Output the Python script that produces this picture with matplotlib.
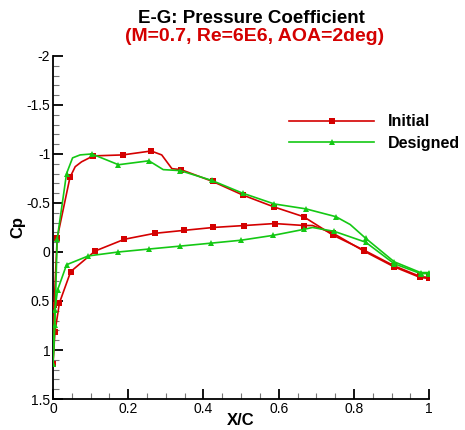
import numpy as np
import matplotlib
matplotlib.use("Agg")
import matplotlib.pyplot as plt
from matplotlib.ticker import MultipleLocator, FuncFormatter
from matplotlib.lines import Line2D

plt.rcParams["font.family"] = ["Liberation Sans", "DejaVu Sans"]

# marker stations (x/c, Cp)
init_up_x = [0.0, 0.003, 0.011, 0.045, 0.107, 0.185, 0.261, 0.340, 0.424, 0.505, 0.587, 0.666, 0.745, 0.826, 0.906, 0.976, 0.999]
init_up_cp = [1.14, 0.54, -0.14, -0.76, -0.98, -0.99, -1.03, -0.84, -0.72, -0.58, -0.46, -0.36, -0.17, -0.02, 0.14, 0.25, 0.26]
init_lo_x = [0.0, 0.005, 0.017, 0.047, 0.112, 0.190, 0.270, 0.347, 0.426, 0.509, 0.589, 0.668, 0.745, 0.826, 0.906, 0.976, 0.999]
init_lo_cp = [1.14, 0.82, 0.52, 0.20, -0.01, -0.13, -0.19, -0.22, -0.25, -0.27, -0.29, -0.27, -0.19, -0.01, 0.15, 0.26, 0.27]

des_up_x = [0.0, 0.005, 0.011, 0.036, 0.103, 0.174, 0.255, 0.338, 0.422, 0.504, 0.588, 0.672, 0.752, 0.831, 0.907, 0.977, 0.999]
des_up_cp = [1.14, 0.74, -0.13, -0.80, -1.00, -0.89, -0.93, -0.83, -0.73, -0.60, -0.49, -0.44, -0.36, -0.14, 0.10, 0.21, 0.21]
des_lo_x = [0.0, 0.005, 0.012, 0.036, 0.094, 0.174, 0.255, 0.338, 0.420, 0.500, 0.586, 0.666, 0.748, 0.831, 0.907, 0.977, 0.999]
des_lo_cp = [1.14, 0.59, 0.39, 0.13, 0.04, 0.00, -0.03, -0.06, -0.09, -0.12, -0.17, -0.23, -0.21, -0.10, 0.12, 0.22, 0.22]

# extra points on the curves between markers (no symbol drawn)
init_up_ex_x = [0.059, 0.076, 0.289, 0.316]
init_up_ex_cp = [-0.87, -0.92, -0.99, -0.85]
init_lo_ex_x = [0.690]
init_lo_ex_cp = [-0.27]
des_up_ex_x = [0.052, 0.072, 0.293, 0.790]
des_up_ex_cp = [-0.96, -0.99, -0.84, -0.28]
des_lo_ex_x = [0.690]
des_lo_ex_cp = [-0.25]

red = "#d40000"
green = "#14c814"


def draw_surface(ax, xm, cpm, xe, cpe, color, marker):
    x = np.array(xm + xe)
    cp = np.array(cpm + cpe)
    is_mark = np.array([True] * len(xm) + [False] * len(xe))
    order = np.argsort(x, kind="stable")
    x, cp, is_mark = x[order], cp[order], is_mark[order]
    idx = list(np.where(is_mark)[0])
    ax.plot(x, cp, color=color, linewidth=1.2, marker=marker, markersize=5,
            markevery=idx, markeredgewidth=0, zorder=3)


fig = plt.figure(figsize=(4.65, 4.3), dpi=100)
ax = fig.add_axes([0.114, 0.072, 0.809, 0.798])

draw_surface(ax, init_up_x, init_up_cp, init_up_ex_x, init_up_ex_cp, red, "s")
draw_surface(ax, init_lo_x, init_lo_cp, init_lo_ex_x, init_lo_ex_cp, red, "s")
draw_surface(ax, des_lo_x, des_lo_cp, des_lo_ex_x, des_lo_ex_cp, green, "^")
draw_surface(ax, des_up_x, des_up_cp, des_up_ex_x, des_up_ex_cp, green, "^")

ax.set_xlim(0, 1)
ax.set_ylim(1.5, -2)
ax.xaxis.set_major_locator(MultipleLocator(0.2))
ax.xaxis.set_minor_locator(MultipleLocator(0.05))
ax.yaxis.set_major_locator(MultipleLocator(0.5))
ax.yaxis.set_minor_locator(MultipleLocator(0.1))
ax.xaxis.set_major_formatter(FuncFormatter(lambda v, p: f"{v:g}"))
ax.yaxis.set_major_formatter(FuncFormatter(lambda v, p: f"{v:g}"))

for s in ["top", "right"]:
    ax.spines[s].set_visible(False)
for s in ["left", "bottom"]:
    ax.spines[s].set_linewidth(1.3)
ax.tick_params(which="major", direction="in", length=7, width=1.3, labelsize=10, pad=2)
ax.tick_params(which="minor", direction="in", length=4, width=0.8, color="#777777")

ax.set_xlabel("X/C", fontsize=12, fontweight="bold", labelpad=-2)
ax.set_ylabel("Cp", fontsize=12, fontweight="bold", labelpad=1)

handles = [Line2D([], [], color=red, marker="s", markersize=5, linewidth=1.2, markeredgewidth=0),
           Line2D([], [], color=green, marker="^", markersize=5, linewidth=1.2, markeredgewidth=0)]
leg = ax.legend(handles, ["Initial", "Designed"], loc="upper left", bbox_to_anchor=(0.628, 0.83),
                frameon=False, handlelength=5.3, handletextpad=0.9, labelspacing=0.40,
                borderpad=0, borderaxespad=0, prop={"size": 11.5, "weight": "bold"})

fig.text(0.54, 0.958, "E-G: Pressure Coefficient", ha="center", va="center",
         fontsize=13.5, fontweight="bold", color="black")
fig.text(0.548, 0.914, "(M=0.7, Re=6E6, AOA=2deg)", ha="center", va="center",
         fontsize=14, fontweight="bold", color=red)

fig.savefig("out.png", dpi=100)
